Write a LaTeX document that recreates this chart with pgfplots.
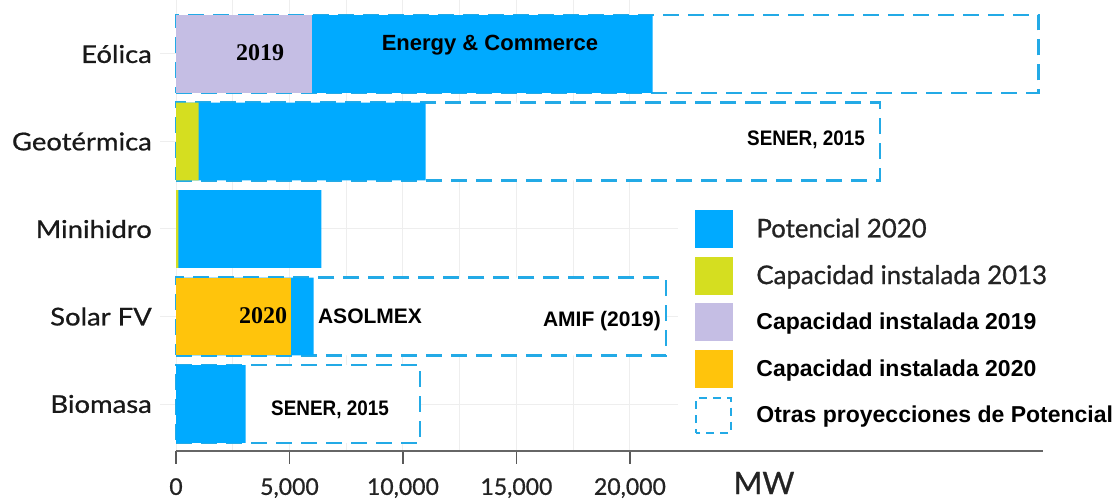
\documentclass[border=0pt]{standalone}
\usepackage{fontspec}
\setmainfont{Lato}[RawFeature={embolden=0.8}]
\newfontfamily\latow[FakeStretch=1.12, RawFeature={embolden=0.8}]{Lato}
\newfontfamily\arialf{Liberation Sans}
\newfontfamily\narrowf[FakeStretch=0.9]{Liberation Sans}
\newfontfamily\serifb{Liberation Serif}
\usepackage{pgfplots}
\pgfplotsset{compat=1.18}
\definecolor{cblue}{RGB}{0,170,255}
\definecolor{cgreen}{RGB}{213,222,32}
\definecolor{clav}{RGB}{197,190,228}
\definecolor{cgold}{RGB}{255,196,12}
\definecolor{cdash}{RGB}{35,170,230}
\definecolor{cgrid}{RGB}{238,238,238}
\definecolor{ctext}{RGB}{35,35,35}
\begin{document}
\begin{tikzpicture}
\begin{axis}[
  set layers,
  at={(176pt,51pt)}, anchor=south west,
  scale only axis, width=867pt, height=451pt,
  xmin=0, xmax=38200, ymin=-0.537, ymax=4.617,
  xbar, bar shift=0pt, bar width=0.89,
  axis x line*=bottom, axis y line*=left,
  x axis line style={draw=black!60, line width=1.5pt},
  y axis line style={draw=none},
  scaled x ticks=false,
  xtick={0,5000,10000,15000,20000},
  xticklabels={0,{5,000},{10,000},{15,000},{20,000}},
  xtick align=outside, ytick align=inside,
  major tick length=13pt,
  x tick style={draw=black!65, line width=1.4pt},
  y tick style={draw=none},
  xticklabel style={font=\fontsize{23}{27}\selectfont, text=ctext, inner sep=0pt, yshift=-14pt},
  ytick={0,1,2,3,4},
  yticklabels={Biomasa,Solar FV,Minihidro,Geotérmica,Eólica},
  yticklabel style={font=\latow\fontsize{24.5}{29}\selectfont, text=black!90, inner sep=0pt, xshift=-24pt},
  clip=false,
  legend style={at={(0.5986,0.5344)}, anchor=north west, draw=none, fill=none,
    inner sep=0pt, outer sep=0pt, row sep=9.25pt,
    nodes={inner sep=0pt},
    /tikz/every odd column/.style={column sep=24pt}},
  legend cell align=left,
]
\begin{pgfonlayer}{axis grid}
\pgfplotsinvokeforeach{0,2500,5000,7500,10000,12500,15000,17500,20000}{
  \draw[cgrid, line width=1pt] (axis cs:#1,-0.537) -- (axis cs:#1,4.617);
}
\pgfplotsinvokeforeach{0,1,2,3,4}{
  \draw[cgrid, line width=1pt] (axis cs:-700,#1) -- (axis cs:22100,#1);
}
\end{pgfonlayer}

% Otras proyecciones de Potencial (dashed)
\addplot[forget plot, fill=white, draw=cdash, line width=2.2pt, dash pattern=on 16pt off 9pt]
  coordinates {(38000,4) (31000,3) (21600,1) (10750,0)};
% Potencial 2020
\addplot[forget plot, fill=cblue, draw=none]
  coordinates {(21000,4) (11000,3) (6400,2) (6060,1) (3070,0)};
% Capacidad instalada 2013
\addplot[forget plot, fill=cgreen, draw=none]
  coordinates {(1000,3) (100,2)};
% Capacidad instalada 2019
\addplot[forget plot, fill=clav, draw=none]
  coordinates {(6000,4)};
% Capacidad instalada 2020
\addplot[forget plot, fill=cgold, draw=none]
  coordinates {(5050,1)};

\addlegendimage{legend image code/.code={\fill[cblue] (0pt,-18.5pt) rectangle (37pt,18.5pt);}}
\addlegendentry{\fontsize{25.8}{30}\selectfont\color{ctext}Potencial 2020}
\addlegendimage{legend image code/.code={\fill[cgreen] (0pt,-18.5pt) rectangle (37pt,18.5pt);}}
\addlegendentry{\fontsize{25.8}{30}\selectfont\color{ctext}Capacidad instalada 2013}
\addlegendimage{legend image code/.code={\fill[clav] (0pt,-18.5pt) rectangle (37pt,18.5pt);}}
\addlegendentry{\arialf\bfseries\fontsize{23}{28}\selectfont Capacidad instalada 2019}
\addlegendimage{legend image code/.code={\fill[cgold] (0pt,-18.5pt) rectangle (37pt,18.5pt);}}
\addlegendentry{\arialf\bfseries\fontsize{23}{28}\selectfont Capacidad instalada 2020}
\addlegendimage{legend image code/.code={\draw[cdash, line width=2pt, dash pattern=on 8pt off 6pt, dash phase=4pt] (1pt,-17.5pt) rectangle (36pt,17.5pt);}}
\addlegendentry{\arialf\bfseries\fontsize{23}{28}\selectfont Otras proyecciones de Potencial}
\end{axis}

% annotations (text)
\node[font=\serifb\bfseries\fontsize{24}{28}\selectfont] at (260pt,449pt) {2019};
\node[font=\arialf\bfseries\fontsize{22}{26}\selectfont] at (490pt,457pt) {Energy \& Commerce};
\node[font=\narrowf\bfseries\fontsize{21}{25}\selectfont] at (806pt,362pt) {SENER, 2015};
\node[font=\serifb\bfseries\fontsize{24}{28}\selectfont] at (263pt,186pt) {2020};
\node[font=\arialf\bfseries\fontsize{21}{25}\selectfont] at (370pt,186pt) {ASOLMEX};
\node[font=\arialf\bfseries\fontsize{21}{25}\selectfont] at (602pt,181pt) {AMIF (2019)};
\node[font=\narrowf\bfseries\fontsize{21}{25}\selectfont] at (330pt,92pt) {SENER, 2015};
\node[font=\fontsize{31}{35}\selectfont, text=ctext] at (764pt,19pt) {MW};
\pgfresetboundingbox
\path (0,0) rectangle (1115pt,502pt);
\end{tikzpicture}
\end{document}
